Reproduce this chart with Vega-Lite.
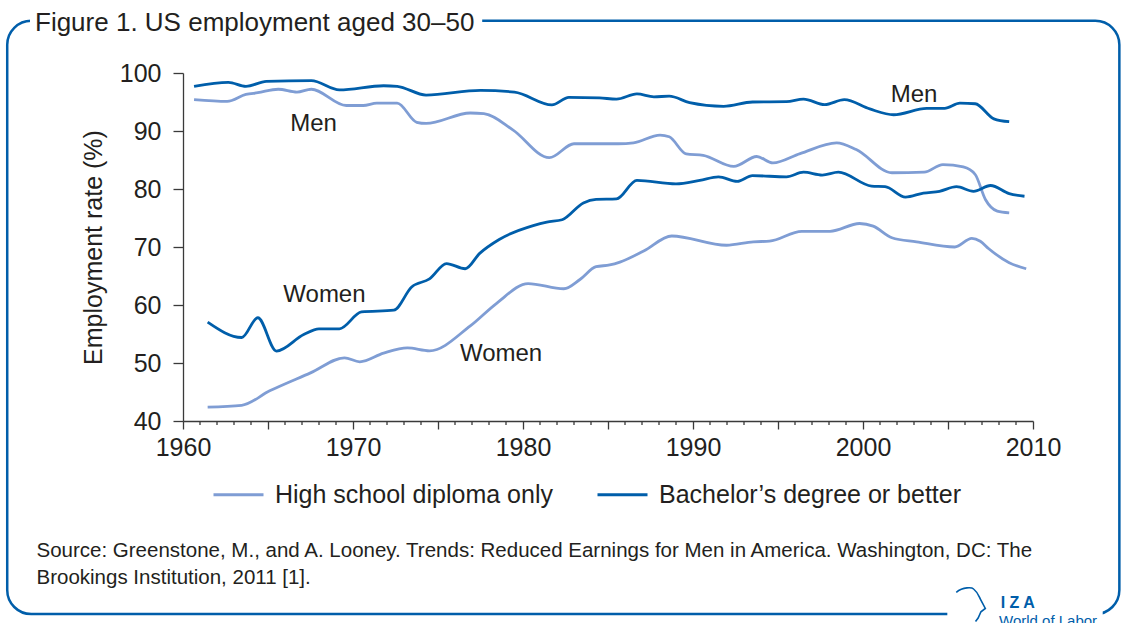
{
  "$schema": "https://vega.github.io/schema/vega-lite/v6.json",
  "width": 850,
  "height": 348,
  "autosize": {"type": "none"},
  "padding": {"left": 183, "top": 73, "right": 90, "bottom": 202},
  "background": "white",
  "config": {
    "font": "Liberation Sans",
    "view": {"stroke": null},
    "axis": {"grid": false, "labelOverlap": false, "labelFlush": false, "domainColor": "#3a3a3a", "tickColor": "#3a3a3a", "domainWidth": 1.3, "tickWidth": 1.3, "labelColor": "#231f20", "titleColor": "#231f20", "labelFont": "Liberation Sans", "titleFont": "Liberation Sans"},
    "axisX": {"labelOverlap": false, "labelFlush": false}
  },
  "title": {
    "text": "Figure 1. US employment aged 30–50",
    "anchor": "start",
    "frame": "group",
    "orient": "top",
    "dx": -148,
    "offset": -42,
    "baseline": "alphabetic",
    "fontSize": 26,
    "fontWeight": "normal",
    "color": "#231f20",
    "font": "Liberation Sans"
  },
  "datasets": {
    "series": [
      {"edu": "High school diploma only", "sex": "Men", "year": 1960.65, "rate": 95.4},
      {"edu": "High school diploma only", "sex": "Men", "year": 1962.6, "rate": 95.1},
      {"edu": "High school diploma only", "sex": "Men", "year": 1963.7, "rate": 96.3},
      {"edu": "High school diploma only", "sex": "Men", "year": 1964.4, "rate": 96.6},
      {"edu": "High school diploma only", "sex": "Men", "year": 1965.6, "rate": 97.2},
      {"edu": "High school diploma only", "sex": "Men", "year": 1966.7, "rate": 96.7},
      {"edu": "High school diploma only", "sex": "Men", "year": 1967.55, "rate": 97.2},
      {"edu": "High school diploma only", "sex": "Men", "year": 1969.6, "rate": 94.4},
      {"edu": "High school diploma only", "sex": "Men", "year": 1970.6, "rate": 94.4},
      {"edu": "High school diploma only", "sex": "Men", "year": 1971.4, "rate": 94.8},
      {"edu": "High school diploma only", "sex": "Men", "year": 1972.6, "rate": 94.8},
      {"edu": "High school diploma only", "sex": "Men", "year": 1973.75, "rate": 91.5},
      {"edu": "High school diploma only", "sex": "Men", "year": 1974.3, "rate": 91.3},
      {"edu": "High school diploma only", "sex": "Men", "year": 1976.9, "rate": 93.1},
      {"edu": "High school diploma only", "sex": "Men", "year": 1977.7, "rate": 93.0},
      {"edu": "High school diploma only", "sex": "Men", "year": 1979.4, "rate": 90.2},
      {"edu": "High school diploma only", "sex": "Men", "year": 1981.55, "rate": 85.4},
      {"edu": "High school diploma only", "sex": "Men", "year": 1983.0, "rate": 87.8},
      {"edu": "High school diploma only", "sex": "Men", "year": 1985.6, "rate": 87.8},
      {"edu": "High school diploma only", "sex": "Men", "year": 1986.5, "rate": 87.95},
      {"edu": "High school diploma only", "sex": "Men", "year": 1988.06, "rate": 89.3},
      {"edu": "High school diploma only", "sex": "Men", "year": 1988.6, "rate": 89.0},
      {"edu": "High school diploma only", "sex": "Men", "year": 1989.6, "rate": 86.05},
      {"edu": "High school diploma only", "sex": "Men", "year": 1990.6, "rate": 85.8},
      {"edu": "High school diploma only", "sex": "Men", "year": 1992.4, "rate": 83.9},
      {"edu": "High school diploma only", "sex": "Men", "year": 1993.75, "rate": 85.6},
      {"edu": "High school diploma only", "sex": "Men", "year": 1994.7, "rate": 84.5},
      {"edu": "High school diploma only", "sex": "Men", "year": 1996.3, "rate": 86.1},
      {"edu": "High school diploma only", "sex": "Men", "year": 1998.45, "rate": 87.95},
      {"edu": "High school diploma only", "sex": "Men", "year": 1999.6, "rate": 86.8},
      {"edu": "High school diploma only", "sex": "Men", "year": 2001.7, "rate": 82.8},
      {"edu": "High school diploma only", "sex": "Men", "year": 2003.6, "rate": 82.9},
      {"edu": "High school diploma only", "sex": "Men", "year": 2004.7, "rate": 84.2},
      {"edu": "High school diploma only", "sex": "Men", "year": 2005.9, "rate": 83.8},
      {"edu": "High school diploma only", "sex": "Men", "year": 2006.6, "rate": 82.5},
      {"edu": "High school diploma only", "sex": "Men", "year": 2007.2, "rate": 78.2},
      {"edu": "High school diploma only", "sex": "Men", "year": 2007.9, "rate": 76.2},
      {"edu": "High school diploma only", "sex": "Men", "year": 2008.6, "rate": 75.9},

      {"edu": "Bachelor’s degree or better", "sex": "Men", "year": 1960.65, "rate": 97.7},
      {"edu": "Bachelor’s degree or better", "sex": "Men", "year": 1962.67, "rate": 98.4},
      {"edu": "Bachelor’s degree or better", "sex": "Men", "year": 1963.7, "rate": 97.7},
      {"edu": "Bachelor’s degree or better", "sex": "Men", "year": 1964.9, "rate": 98.55},
      {"edu": "Bachelor’s degree or better", "sex": "Men", "year": 1967.55, "rate": 98.7},
      {"edu": "Bachelor’s degree or better", "sex": "Men", "year": 1969.2, "rate": 97.1},
      {"edu": "Bachelor’s degree or better", "sex": "Men", "year": 1971.8, "rate": 97.8},
      {"edu": "Bachelor’s degree or better", "sex": "Men", "year": 1972.6, "rate": 97.7},
      {"edu": "Bachelor’s degree or better", "sex": "Men", "year": 1974.3, "rate": 96.2},
      {"edu": "Bachelor’s degree or better", "sex": "Men", "year": 1977.5, "rate": 97.0},
      {"edu": "Bachelor’s degree or better", "sex": "Men", "year": 1979.5, "rate": 96.7},
      {"edu": "Bachelor’s degree or better", "sex": "Men", "year": 1981.7, "rate": 94.5},
      {"edu": "Bachelor’s degree or better", "sex": "Men", "year": 1982.7, "rate": 95.8},
      {"edu": "Bachelor’s degree or better", "sex": "Men", "year": 1984.5, "rate": 95.7},
      {"edu": "Bachelor’s degree or better", "sex": "Men", "year": 1985.5, "rate": 95.5},
      {"edu": "Bachelor’s degree or better", "sex": "Men", "year": 1986.7, "rate": 96.4},
      {"edu": "Bachelor’s degree or better", "sex": "Men", "year": 1987.7, "rate": 95.9},
      {"edu": "Bachelor’s degree or better", "sex": "Men", "year": 1988.6, "rate": 96.0},
      {"edu": "Bachelor’s degree or better", "sex": "Men", "year": 1989.8, "rate": 94.9},
      {"edu": "Bachelor’s degree or better", "sex": "Men", "year": 1991.8, "rate": 94.25},
      {"edu": "Bachelor’s degree or better", "sex": "Men", "year": 1993.5, "rate": 95.0},
      {"edu": "Bachelor’s degree or better", "sex": "Men", "year": 1995.5, "rate": 95.05},
      {"edu": "Bachelor’s degree or better", "sex": "Men", "year": 1996.5, "rate": 95.5},
      {"edu": "Bachelor’s degree or better", "sex": "Men", "year": 1997.75, "rate": 94.55},
      {"edu": "Bachelor’s degree or better", "sex": "Men", "year": 1998.9, "rate": 95.4},
      {"edu": "Bachelor’s degree or better", "sex": "Men", "year": 2000.4, "rate": 93.8},
      {"edu": "Bachelor’s degree or better", "sex": "Men", "year": 2001.8, "rate": 92.8},
      {"edu": "Bachelor’s degree or better", "sex": "Men", "year": 2003.75, "rate": 93.9},
      {"edu": "Bachelor’s degree or better", "sex": "Men", "year": 2004.8, "rate": 93.9},
      {"edu": "Bachelor’s degree or better", "sex": "Men", "year": 2005.7, "rate": 94.8},
      {"edu": "Bachelor’s degree or better", "sex": "Men", "year": 2006.6, "rate": 94.7},
      {"edu": "Bachelor’s degree or better", "sex": "Men", "year": 2007.7, "rate": 92.1},
      {"edu": "Bachelor’s degree or better", "sex": "Men", "year": 2008.6, "rate": 91.6},

      {"edu": "Bachelor’s degree or better", "sex": "Women", "year": 1961.45, "rate": 57.05},
      {"edu": "Bachelor’s degree or better", "sex": "Women", "year": 1963.45, "rate": 54.4},
      {"edu": "Bachelor’s degree or better", "sex": "Women", "year": 1964.4, "rate": 57.8},
      {"edu": "Bachelor’s degree or better", "sex": "Women", "year": 1965.5, "rate": 52.05},
      {"edu": "Bachelor’s degree or better", "sex": "Women", "year": 1967.1, "rate": 54.9},
      {"edu": "Bachelor’s degree or better", "sex": "Women", "year": 1968.0, "rate": 55.9},
      {"edu": "Bachelor’s degree or better", "sex": "Women", "year": 1969.2, "rate": 55.9},
      {"edu": "Bachelor’s degree or better", "sex": "Women", "year": 1970.5, "rate": 58.8},
      {"edu": "Bachelor’s degree or better", "sex": "Women", "year": 1972.4, "rate": 59.1},
      {"edu": "Bachelor’s degree or better", "sex": "Women", "year": 1973.45, "rate": 63.1},
      {"edu": "Bachelor’s degree or better", "sex": "Women", "year": 1974.5, "rate": 64.5},
      {"edu": "Bachelor’s degree or better", "sex": "Women", "year": 1975.5, "rate": 67.15},
      {"edu": "Bachelor’s degree or better", "sex": "Women", "year": 1976.6, "rate": 66.25},
      {"edu": "Bachelor’s degree or better", "sex": "Women", "year": 1977.45, "rate": 68.9},
      {"edu": "Bachelor’s degree or better", "sex": "Women", "year": 1978.6, "rate": 71.3},
      {"edu": "Bachelor’s degree or better", "sex": "Women", "year": 1980.6, "rate": 73.7},
      {"edu": "Bachelor’s degree or better", "sex": "Women", "year": 1981.4, "rate": 74.3},
      {"edu": "Bachelor’s degree or better", "sex": "Women", "year": 1982.3, "rate": 74.7},
      {"edu": "Bachelor’s degree or better", "sex": "Women", "year": 1983.55, "rate": 77.6},
      {"edu": "Bachelor’s degree or better", "sex": "Women", "year": 1984.3, "rate": 78.2},
      {"edu": "Bachelor’s degree or better", "sex": "Women", "year": 1985.5, "rate": 78.3},
      {"edu": "Bachelor’s degree or better", "sex": "Women", "year": 1986.7, "rate": 81.5},
      {"edu": "Bachelor’s degree or better", "sex": "Women", "year": 1989.0, "rate": 80.9},
      {"edu": "Bachelor’s degree or better", "sex": "Women", "year": 1990.4, "rate": 81.5},
      {"edu": "Bachelor’s degree or better", "sex": "Women", "year": 1991.5, "rate": 82.1},
      {"edu": "Bachelor’s degree or better", "sex": "Women", "year": 1992.6, "rate": 81.3},
      {"edu": "Bachelor’s degree or better", "sex": "Women", "year": 1993.5, "rate": 82.3},
      {"edu": "Bachelor’s degree or better", "sex": "Women", "year": 1995.5, "rate": 82.1},
      {"edu": "Bachelor’s degree or better", "sex": "Women", "year": 1996.5, "rate": 82.9},
      {"edu": "Bachelor’s degree or better", "sex": "Women", "year": 1997.6, "rate": 82.4},
      {"edu": "Bachelor’s degree or better", "sex": "Women", "year": 1998.55, "rate": 82.9},
      {"edu": "Bachelor’s degree or better", "sex": "Women", "year": 2000.5, "rate": 80.5},
      {"edu": "Bachelor’s degree or better", "sex": "Women", "year": 2001.3, "rate": 80.4},
      {"edu": "Bachelor’s degree or better", "sex": "Women", "year": 2002.5, "rate": 78.6},
      {"edu": "Bachelor’s degree or better", "sex": "Women", "year": 2003.55, "rate": 79.3},
      {"edu": "Bachelor’s degree or better", "sex": "Women", "year": 2004.5, "rate": 79.6},
      {"edu": "Bachelor’s degree or better", "sex": "Women", "year": 2005.5, "rate": 80.4},
      {"edu": "Bachelor’s degree or better", "sex": "Women", "year": 2006.5, "rate": 79.6},
      {"edu": "Bachelor’s degree or better", "sex": "Women", "year": 2007.5, "rate": 80.6},
      {"edu": "Bachelor’s degree or better", "sex": "Women", "year": 2008.6, "rate": 79.2},
      {"edu": "Bachelor’s degree or better", "sex": "Women", "year": 2009.5, "rate": 78.75},

      {"edu": "High school diploma only", "sex": "Women", "year": 1961.45, "rate": 42.4},
      {"edu": "High school diploma only", "sex": "Women", "year": 1963.45, "rate": 42.7},
      {"edu": "High school diploma only", "sex": "Women", "year": 1965.1, "rate": 45.2},
      {"edu": "High school diploma only", "sex": "Women", "year": 1967.5, "rate": 48.3},
      {"edu": "High school diploma only", "sex": "Women", "year": 1969.5, "rate": 50.9},
      {"edu": "High school diploma only", "sex": "Women", "year": 1970.4, "rate": 50.2},
      {"edu": "High school diploma only", "sex": "Women", "year": 1971.8, "rate": 51.7},
      {"edu": "High school diploma only", "sex": "Women", "year": 1973.2, "rate": 52.6},
      {"edu": "High school diploma only", "sex": "Women", "year": 1974.5, "rate": 52.1},
      {"edu": "High school diploma only", "sex": "Women", "year": 1976.9, "rate": 56.4},
      {"edu": "High school diploma only", "sex": "Women", "year": 1978.45, "rate": 60.3},
      {"edu": "High school diploma only", "sex": "Women", "year": 1980.3, "rate": 63.7},
      {"edu": "High school diploma only", "sex": "Women", "year": 1982.4, "rate": 62.8},
      {"edu": "High school diploma only", "sex": "Women", "year": 1983.35, "rate": 64.4},
      {"edu": "High school diploma only", "sex": "Women", "year": 1984.3, "rate": 66.6},
      {"edu": "High school diploma only", "sex": "Women", "year": 1985.1, "rate": 66.9},
      {"edu": "High school diploma only", "sex": "Women", "year": 1985.7, "rate": 67.4},
      {"edu": "High school diploma only", "sex": "Women", "year": 1987.1, "rate": 69.3},
      {"edu": "High school diploma only", "sex": "Women", "year": 1988.75, "rate": 71.9},
      {"edu": "High school diploma only", "sex": "Women", "year": 1991.97, "rate": 70.3},
      {"edu": "High school diploma only", "sex": "Women", "year": 1993.55, "rate": 70.9},
      {"edu": "High school diploma only", "sex": "Women", "year": 1994.5, "rate": 71.0},
      {"edu": "High school diploma only", "sex": "Women", "year": 1996.4, "rate": 72.7},
      {"edu": "High school diploma only", "sex": "Women", "year": 1998.06, "rate": 72.7},
      {"edu": "High school diploma only", "sex": "Women", "year": 1999.8, "rate": 74.05},
      {"edu": "High school diploma only", "sex": "Women", "year": 2000.6, "rate": 73.6},
      {"edu": "High school diploma only", "sex": "Women", "year": 2001.7, "rate": 71.6},
      {"edu": "High school diploma only", "sex": "Women", "year": 2003.15, "rate": 70.9},
      {"edu": "High school diploma only", "sex": "Women", "year": 2005.4, "rate": 70.0},
      {"edu": "High school diploma only", "sex": "Women", "year": 2006.4, "rate": 71.5},
      {"edu": "High school diploma only", "sex": "Women", "year": 2006.9, "rate": 71.0},
      {"edu": "High school diploma only", "sex": "Women", "year": 2007.4, "rate": 69.7},
      {"edu": "High school diploma only", "sex": "Women", "year": 2008.6, "rate": 67.3},
      {"edu": "High school diploma only", "sex": "Women", "year": 2009.6, "rate": 66.25}
    ],
    "labels": [
      {"label": "Men", "year": 1967.68, "rate": 89.95},
      {"label": "Men", "year": 2003.0, "rate": 94.95},
      {"label": "Women", "year": 1968.32, "rate": 60.5},
      {"label": "Women", "year": 1978.71, "rate": 50.35}
    ],
    "minorTicks": [
      {"year": 1961}, {"year": 1962}, {"year": 1963}, {"year": 1964},
      {"year": 1966}, {"year": 1967}, {"year": 1968}, {"year": 1969},
      {"year": 1971}, {"year": 1972}, {"year": 1973}, {"year": 1974},
      {"year": 1976}, {"year": 1977}, {"year": 1978}, {"year": 1979},
      {"year": 1981}, {"year": 1982}, {"year": 1983}, {"year": 1984},
      {"year": 1986}, {"year": 1987}, {"year": 1988}, {"year": 1989},
      {"year": 1991}, {"year": 1992}, {"year": 1993}, {"year": 1994},
      {"year": 1996}, {"year": 1997}, {"year": 1998}, {"year": 1999},
      {"year": 2001}, {"year": 2002}, {"year": 2003}, {"year": 2004},
      {"year": 2006}, {"year": 2007}, {"year": 2008}, {"year": 2009}
    ]
  },
  "layer": [
    {
      "data": {"name": "series"},
      "mark": {"type": "line", "strokeWidth": 2.8, "interpolate": "monotone"},
      "encoding": {
        "x": {
          "field": "year", "type": "quantitative",
          "scale": {"domain": [1960, 2010], "nice": false, "zero": false},
          "axis": {
            "values": [1960, 1965, 1970, 1975, 1980, 1985, 1990, 1995, 2000, 2005, 2010],
            "labelExpr": "datum.value % 10 === 0 ? datum.label : ''",
            "format": "d",
            "tickSize": 8,
            "labelFlush": false,
            "labelOverlap": false,
            "labelFontSize": 25,
            "labelPadding": 6,
            "title": ["Source: Greenstone, M., and A. Looney. Trends: Reduced Earnings for Men in America. Washington, DC: The", "Brookings Institution, 2011 [1]."],
            "titleAnchor": "start",
            "titleAlign": "left",
            "titleX": -147,
            "titleY": 135,
            "titleBaseline": "alphabetic",
            "titleFontSize": 20.5,
            "titleFontWeight": "normal",
            "titleFont": "Liberation Sans",
            "titleLineHeight": 27,
            "titleLimit": 1100
          }
        },
        "y": {
          "field": "rate", "type": "quantitative",
          "scale": {"domain": [40, 100], "nice": false, "zero": false},
          "axis": {
            "values": [40, 50, 60, 70, 80, 90, 100],
            "title": "Employment rate (%)",
            "titleFontSize": 25,
            "titleFontWeight": "normal",
            "titlePadding": 13,
            "labelFontSize": 25,
            "labelPadding": 12,
            "tickSize": 10
          }
        },
        "color": {
          "field": "edu", "type": "nominal",
          "scale": {"domain": ["High school diploma only", "Bachelor’s degree or better"], "range": ["#7f9dd4", "#005eaa"]},
          "legend": {
            "orient": "none", "legendX": 29, "legendY": 395, "direction": "horizontal",
            "title": null, "symbolType": "stroke", "symbolSize": 2500, "symbolStrokeWidth": 3,
            "labelFontSize": 25, "labelColor": "#231f20", "labelOffset": 10, "columnPadding": 38, "labelLimit": 400
          }
        },
        "detail": {"field": "sex", "type": "nominal"}
      }
    },
    {
      "data": {"name": "minorTicks"},
      "mark": {"type": "rule", "color": "#3a3a3a", "strokeWidth": 1.3},
      "encoding": {
        "x": {"field": "year", "type": "quantitative", "scale": {"domain": [1960, 2010]}},
        "y": {"datum": 40, "type": "quantitative", "scale": {"domain": [40, 100]}},
        "y2": {"datum": 39.3}
      }
    },
    {
      "data": {"name": "labels"},
      "mark": {"type": "text", "align": "center", "baseline": "alphabetic", "fontSize": 24, "color": "#231f20"},
      "encoding": {
        "x": {"field": "year", "type": "quantitative", "scale": {"domain": [1960, 2010]}},
        "y": {"field": "rate", "type": "quantitative", "scale": {"domain": [40, 100]}},
        "text": {"field": "label"}
      }
    },
    {
      "data": {"values": [{"part": "frame"}]},
      "mark": {"type": "rect", "fill": "transparent", "stroke": "#005eaa", "strokeWidth": 2.5, "cornerRadius": 24},
      "encoding": {
        "x": {"datum": 1949.66, "type": "quantitative", "scale": {"domain": [1960, 2010]}},
        "x2": {"datum": 2015.08},
        "y": {"datum": 109.0, "type": "quantitative", "scale": {"domain": [40, 100]}},
        "y2": {"datum": 6.72}
      }
    },
    {
      "data": {"values": [{"part": "title gap"}]},
      "mark": {"type": "rect", "fill": "white", "stroke": null},
      "encoding": {
        "x": {"datum": 1951.0, "type": "quantitative", "scale": {"domain": [1960, 2010]}},
        "x2": {"datum": 1977.6},
        "y": {"datum": 110.0, "type": "quantitative", "scale": {"domain": [40, 100]}},
        "y2": {"datum": 108.0}
      }
    },
    {
      "data": {"values": [{"part": "logo gap"}]},
      "mark": {"type": "rect", "fill": "white", "stroke": null},
      "encoding": {
        "x": {"datum": 2004.96, "type": "quantitative", "scale": {"domain": [1960, 2010]}},
        "x2": {"datum": 2014.1},
        "y": {"datum": 7.9, "type": "quantitative", "scale": {"domain": [40, 100]}},
        "y2": {"datum": 5.5}
      }
    },
    {
      "data": {"values": [{"part": "logo head"}]},
      "mark": {"type": "point", "filled": false, "stroke": "#005eaa", "strokeWidth": 1.6, "size": 1225, "shape": "M -0.8 -0.67 C -0.4 -1 0.1 -0.95 0.19 -0.86 C 0.45 -0.65 0.5 -0.45 0.57 -0.29 L 0.86 0.25 L 0.61 0.44 L 0.45 0.8 L 0.3 1", "opacity": 1},
      "encoding": {
        "x": {"datum": 2006.31, "type": "quantitative", "scale": {"domain": [1960, 2010]}},
        "y": {"datum": 8.44, "type": "quantitative", "scale": {"domain": [40, 100]}}
      }
    },
    {
      "data": {"values": [{"part": "logo text"}]},
      "mark": {"type": "text", "text": "I Z A", "align": "center", "baseline": "alphabetic", "fontSize": 16, "fontWeight": "bold", "color": "#005eaa"},
      "encoding": {
        "x": {"datum": 2009.1, "type": "quantitative", "scale": {"domain": [1960, 2010]}},
        "y": {"datum": 7.75, "type": "quantitative", "scale": {"domain": [40, 100]}}
      }
    },
    {
      "data": {"values": [{"part": "logo text 2"}]},
      "mark": {"type": "text", "text": "World of Labor", "align": "left", "baseline": "alphabetic", "fontSize": 15, "color": "#005eaa"},
      "encoding": {
        "x": {"datum": 2008.0, "type": "quantitative", "scale": {"domain": [1960, 2010]}},
        "y": {"datum": 4.6, "type": "quantitative", "scale": {"domain": [40, 100]}}
      }
    }
  ]
}
